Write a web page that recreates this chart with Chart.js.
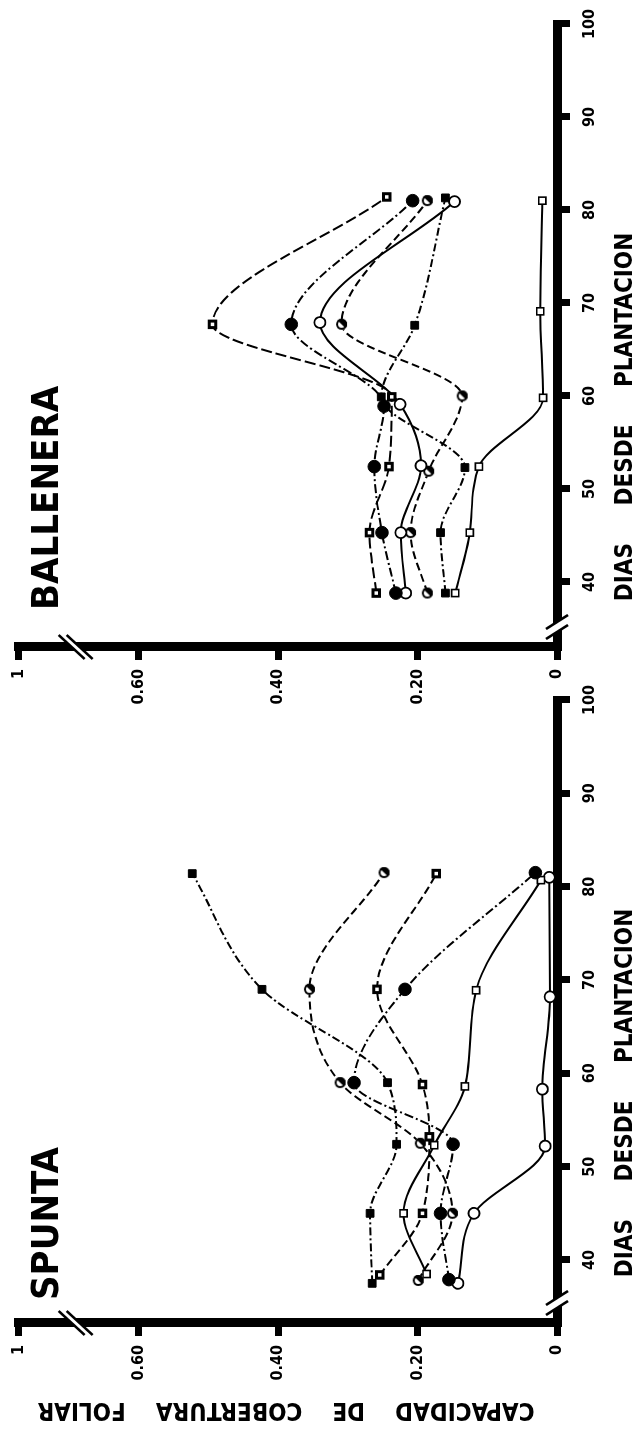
<!DOCTYPE html>
<html>
<head>
<meta charset="utf-8">
<script src="https://cdn.jsdelivr.net/npm/chart.js@4.4.1/dist/chart.umd.min.js"></script>
<style>
  html, body { margin: 0; padding: 0; background: #fff; overflow: hidden; }
  body { width: 633px; height: 1430px; position: relative; }
  /* the figure is laid out landscape and turned a quarter turn, like the scan */
  #figure { position: absolute; left: 0; top: 0; width: 1430px; height: 633px;
    transform-origin: 0 0; transform: translate(0, 1430px) rotate(-90deg); }
  #figure canvas { position: absolute; top: 0; }
  #spunta { left: 0; }
  #ballenera { left: 676px; }
</style>
</head>
<body>
<div id="figure">
  <canvas id="spunta" width="760" height="633"></canvas>
  <canvas id="ballenera" width="760" height="633"></canvas>
</div>
<script>
// ticks
const xTicks = [40, 50, 60, 70, 80, 90, 100]
const yTickValues = [0, 0.2, 0.4, 0.6, 0.772]
const yTickLabels = ['0', '0.20', '0.40', '0.60', '1']

// SPUNTA: days after planting / foliar cover capacity
const spFilledSquareDays = [37.5, 45, 52.4, 59, 69, 81.4]
const spFilledSquare = [0.265, 0.268, 0.230, 0.243, 0.423, 0.523]
const spSmallSquareDays = [38.4, 45, 53.2, 58.8, 69, 81.4]
const spSmallSquare = [0.254, 0.193, 0.183, 0.193, 0.258, 0.173]
const spHalfCircleDays = [37.8, 45, 52.5, 59, 69, 81.5]
const spHalfCircle = [0.199, 0.150, 0.196, 0.311, 0.355, 0.248]
const spFilledCircleDays = [37.9, 45, 52.4, 59, 69, 81.5]
const spFilledCircle = [0.155, 0.167, 0.149, 0.291, 0.218, 0.031]
const spOpenSquareDays = [38.5, 45, 52.3, 58.6, 68.9, 80.7]
const spOpenSquare = [0.187, 0.220, 0.176, 0.132, 0.116, 0.023]
const spOpenCircleDays = [37.5, 45, 52.2, 58.3, 68.2, 81]
const spOpenCircle = [0.142, 0.119, 0.017, 0.021, 0.010, 0.011]

// BALLENERA
const baSmallSquareDays = [38.8, 45.3, 52.4, 59.9, 67.7, 81.4]
const baSmallSquare = [0.259, 0.269, 0.241, 0.237, 0.494, 0.244]
const baFilledCircleDays = [38.8, 45.3, 52.4, 58.9, 67.7, 81.0]
const baFilledCircle = [0.231, 0.251, 0.262, 0.248, 0.381, 0.207]
const baOpenCircleDays = [38.8, 45.3, 52.5, 59.1, 67.9, 80.9]
const baOpenCircle = [0.217, 0.224, 0.195, 0.225, 0.340, 0.147]
const baHalfCircleDays = [38.8, 45.3, 51.9, 60.0, 67.7, 81.0]
const baHalfCircle = [0.186, 0.210, 0.184, 0.136, 0.309, 0.186]
const baFilledSquareDays = [38.8, 45.3, 52.3, 59.9, 67.6, 81.3]
const baFilledSquare = [0.160, 0.167, 0.132, 0.252, 0.204, 0.160]
const baOpenSquareDays = [38.8, 45.3, 52.4, 59.8, 69.1, 81.0]
const baOpenSquare = [0.146, 0.125, 0.112, 0.020, 0.024, 0.021]

const FONT = '"DejaVu Sans Condensed", "Liberation Sans Narrow", "DejaVu Sans", sans-serif'

function halfCircle(r) {
  const c = document.createElement('canvas')
  c.width = c.height = 2 * r + 4
  const g = c.getContext('2d')
  const m = r + 2
  g.fillStyle = '#fff'
  g.beginPath(); g.arc(m, m, r, 0, 2 * Math.PI); g.fill()
  g.fillStyle = '#000'
  g.beginPath(); g.arc(m, m, r, -Math.PI / 4, 3 * Math.PI / 4); g.fill()
  g.lineWidth = 2; g.strokeStyle = '#000'
  g.beginPath(); g.arc(m, m, r - 1, 0, 2 * Math.PI); g.stroke()
  return c
}

const markers = {
  filledSquare: { pointStyle: 'rect', pointRadius: 5.5, pointBackgroundColor: '#000', pointBorderWidth: 1 },
  smallSquare: { pointStyle: 'rect', pointRadius: 4.6, pointBackgroundColor: '#fff', pointBorderWidth: 3 },
  openSquare: { pointStyle: 'rect', pointRadius: 5, pointBackgroundColor: '#fff', pointBorderWidth: 1.6 },
  filledCircle: { pointStyle: 'circle', pointRadius: 6.3, pointBackgroundColor: '#000', pointBorderWidth: 1 },
  openCircle: { pointStyle: 'circle', pointRadius: 5.5, pointBackgroundColor: '#fff', pointBorderWidth: 1.8 },
  halfCircle: { pointStyle: halfCircle(5.5), pointRadius: 6 }
}

function series(days, vals, marker, dash) {
  return Object.assign({
    data: days.map((d, i) => ({ x: d, y: vals[i] })),
    borderColor: '#000',
    pointBorderColor: '#000',
    borderWidth: 2,
    borderDash: dash,
    cubicInterpolationMode: 'monotone',
    clip: false
  }, markers[marker])
}

const decor = {
  id: 'decor',
  afterDraw(chart, args, o) {
    const { ctx, chartArea: a } = chart
    ctx.save()
    ctx.fillStyle = '#000'
    ctx.textBaseline = 'alphabetic'

    ctx.font = 'bold 38px ' + FONT
    ctx.textAlign = 'left'
    ctx.fillText(o.title, a.left + o.titleOffset, 58)

    ctx.font = 'bold 24px ' + FONT
    ctx.textAlign = 'center'
    ctx.fillText('DIAS     DESDE     PLANTACION', a.left + 230, 632)

    if (o.yTitle) {
      ctx.save()
      ctx.translate(27, 286)
      ctx.rotate(-Math.PI / 2)
      ctx.fillText(o.yTitle, 0, 0)
      ctx.restore()
    }

    // axis breaks
    const mark = (p1, p2, q1, q2) => {
      ctx.fillStyle = '#fff'
      ctx.beginPath()
      ctx.moveTo(p1[0], p1[1]); ctx.lineTo(p2[0], p2[1]); ctx.lineTo(q2[0], q2[1]); ctx.lineTo(q1[0], q1[1])
      ctx.closePath(); ctx.fill()
      ctx.strokeStyle = '#000'; ctx.lineWidth = 2.5
      ctx.beginPath(); ctx.moveTo(p1[0], p1[1]); ctx.lineTo(p2[0], p2[1]); ctx.stroke()
      ctx.beginPath(); ctx.moveTo(q1[0], q1[1]); ctx.lineTo(q2[0], q2[1]); ctx.stroke()
    }
    const yx = a.left, yy = a.top + 57
    mark([yx + 12, yy - 17], [yx - 12, yy + 9], [yx + 12, yy - 9], [yx - 12, yy + 17])
    const xx = a.left + 21, xy = a.bottom
    mark([xx - 13, xy - 11], [xx + 1, xy + 11], [xx - 3, xy - 11], [xx + 11, xy + 11])
    ctx.restore()
  }
}

function makeChart(id, datasets, opts) {
  return new Chart(document.getElementById(id), {
    type: 'line',
    data: { datasets },
    plugins: [decor],
    options: {
      responsive: false,
      animation: false,
      devicePixelRatio: 1,
      layout: { padding: { left: 0, top: 13, right: 30, bottom: 0 } },
      plugins: { legend: { display: false }, tooltip: { enabled: false }, decor: opts },
      scales: {
        x: {
          type: 'linear',
          min: opts.xMin,
          max: 100,
          afterBuildTicks: s => { s.ticks = xTicks.map(v => ({ value: v })) },
          afterFit: s => { s.height = 76 },
          ticks: { color: '#000', font: { family: FONT, size: 16, weight: 'bold' }, padding: 10, maxRotation: 0 },
          grid: { drawOnChartArea: false, tickLength: 13, lineWidth: 7, color: '#000' },
          border: { width: 9, color: '#000' }
        },
        y: {
          min: 0,
          max: 0.772,
          afterBuildTicks: s => { s.ticks = yTickValues.map(v => ({ value: v })) },
          afterFit: s => { s.width = 107 },
          ticks: {
            color: '#000',
            font: { family: FONT, size: 16, weight: 'bold' },
            padding: 9,
            callback: (v, i) => yTickLabels[i]
          },
          grid: { drawOnChartArea: false, tickLength: 13, lineWidth: 7, color: '#000' },
          border: { width: 9, color: '#000' }
        }
      }
    }
  })
}

const dashDot = [9, 3, 2, 3]
const dashed = [8, 4]
const longDash = [11, 4]

makeChart('spunta', [
  series(spFilledSquareDays, spFilledSquare, 'filledSquare', [8, 3, 2, 3]),
  series(spSmallSquareDays, spSmallSquare, 'smallSquare', dashed),
  series(spHalfCircleDays, spHalfCircle, 'halfCircle', dashed),
  series(spFilledCircleDays, spFilledCircle, 'filledCircle', dashDot),
  series(spOpenSquareDays, spOpenSquare, 'openSquare', []),
  series(spOpenCircleDays, spOpenCircle, 'openCircle', [])
], { title: 'SPUNTA', titleOffset: 23, xMin: 33.25, yTitle: 'CAPACIDAD    DE    COBERTURA    FOLIAR' })

makeChart('ballenera', [
  series(baSmallSquareDays, baSmallSquare, 'smallSquare', longDash),
  series(baFilledCircleDays, baFilledCircle, 'filledCircle', dashDot),
  series(baOpenCircleDays, baOpenCircle, 'openCircle', []),
  series(baHalfCircleDays, baHalfCircle, 'halfCircle', dashed),
  series(baFilledSquareDays, baFilledSquare, 'filledSquare', [8, 3, 2, 3]),
  series(baOpenSquareDays, baOpenSquare, 'openSquare', [])
], { title: 'BALLENERA', titleOffset: 37, xMin: 33.0 })
</script>
</body>
</html>
